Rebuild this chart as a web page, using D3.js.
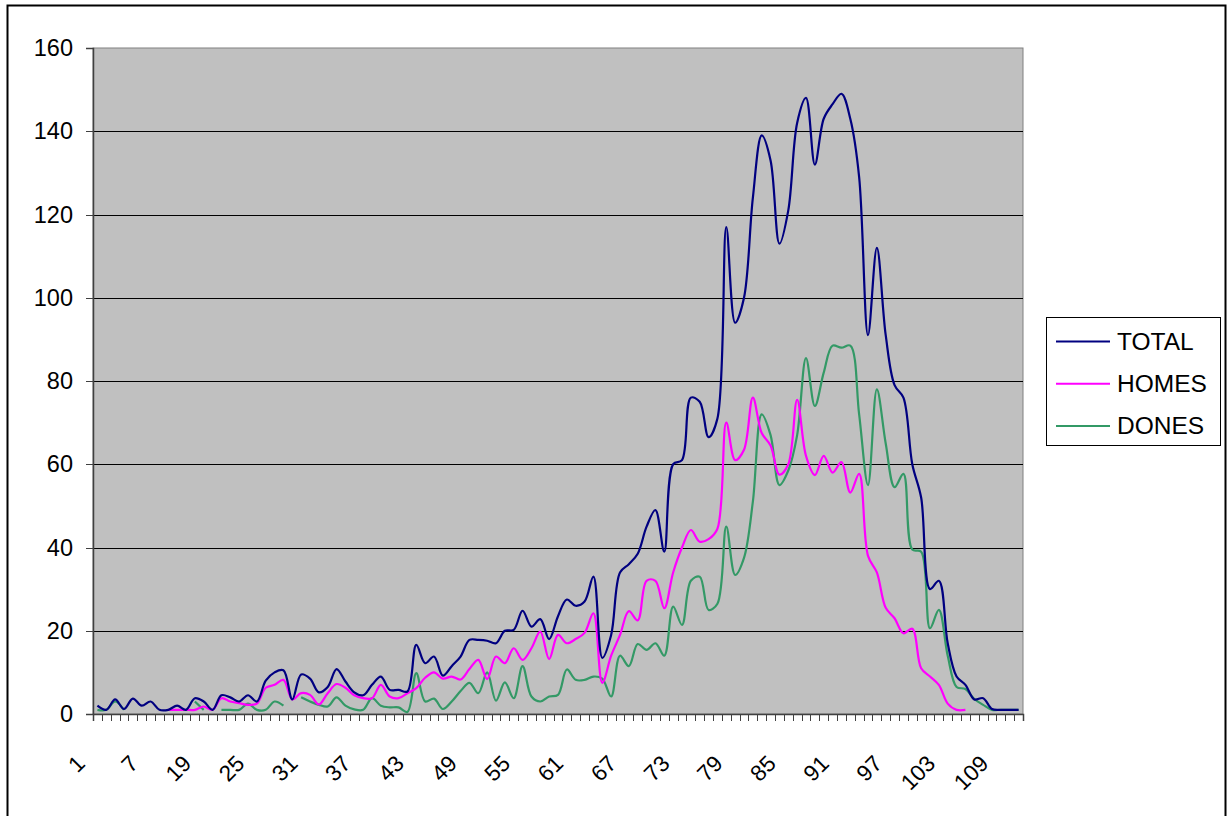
<!DOCTYPE html>
<html>
<head>
<meta charset="UTF-8">
<title>TOTAL / HOMES / DONES</title>
<script src="https://d3js.org/d3.v7.min.js"></script>
<style>
  body { margin: 0; background: #fff; }
  svg text { font-family: Arial, "Liberation Sans", sans-serif; fill: #000; }
</style>
</head>
<body>
<div id="chart"></div>
<script>
// category labels along the x axis (13..18 are missing in the data)
var categories = [1,2,3,4,5,6,7,8,9,10,11,12,
  19,20,21,22,23,24,25,26,27,28,29,30,31,32,33,34,35,36,37,38,39,40,
  41,42,43,44,45,46,47,48,49,50,51,52,53,54,55,56,57,58,59,60,
  61,62,63,64,65,66,67,68,69,70,71,72,73,74,75,76,77,78,79,80,
  81,82,83,84,85,86,87,88,89,90,91,92,93,94,95,96,97,98,99,100,
  101,102,103,104,105,106,107,108,109,110,111];

var tickLabels = ["1","7","19","25","31","37","43","49","55","61","67","73","79","85","91","97","103","109"];
var yTicks = [0,20,40,60,80,100,120,140,160];

var seriesNames = ["TOTAL","HOMES","DONES"];
var seriesColors = ["#000080","#FF00FF","#339966"];

var total = [2,1,3.5,1.2,3.7,2,3,1,1,2,1,3.8,
  3,1,4.5,4,3,4.5,3,8,10,10.5,3.5,9.5,8.5,5.2,6.5,10.8,7.8,5.2,
  4.5,7,9,5.8,5.8,5.4,16.6,12.2,13.8,9.2,11.5,13.8,17.8,17.8,17.6,17,
  20,20.2,24.8,21,22.8,18,23.5,27.5,26,27,33,13.5,19,34,
  36,38.5,45,49,39,60,61,76,75,66.5,71,117,94,100,124,139,
  133,113,121,142,148,132,143,146.5,149,143,129,91,112,91,79,76,
  60,52,30,32,17,9,7,3.5,3.8,1.2,1,1,1];

var homes = [null,null,null,null,null,null,null,null,1,1,1,1,
  1.8,1,3.8,3,2.6,2.2,2.5,6.3,7,8.2,3.5,5,4.6,2.3,5,7.2,6.3,4.5,
  3.8,3.8,7,4.2,3.8,5,6.2,8.7,10,8.5,9,8.3,10.8,13,8.4,13.8,
  12.2,15.8,13,15.8,19.8,13.2,19,17,18,19.5,24.2,7.5,14,19,
  24.7,22.5,32,32,25.4,34,40,44.2,41.4,42,44.5,70,61,63.5,76,67.5,
  64.5,57.5,60,75.5,62,57.4,62,58,60.5,53.2,57.7,38,34,25.5,23,19.4,
  20.5,11,9,7,2.5,1,1,null,null,null,null,null,null];

var dones = [1,1,3,1,null,null,null,null,null,null,null,3,
  1,null,1,1,1,2.5,1,1,3,2,null,4,3,2.2,1.8,4,2,1.1,
  1,3.8,2,1.6,1.6,0.5,9.8,3,3.7,1.2,3,5.5,7.5,5,10,3.2,
  7.6,3.8,11.5,4.2,3,4.2,4.6,10.7,8.2,8.2,9,8.5,4.2,14,
  11.5,16.8,15.4,17,14,25.8,21.4,32,33,25,26.5,45,33.4,37.5,51,72,
  67,55,58.5,67,85.5,74,82,88.5,88,88.5,72,55,78,65,54.5,57.7,
  39.5,39,20.6,25,14,6.5,6,3.6,2.2,1,1,1,1];

var W = 1231, H = 816;
var plotLeft = 93, plotRight = 1023, plotTop = 48, plotBottom = 714;

var svg = d3.select("#chart").append("svg")
    .attr("width", W)
    .attr("height", H);

// outer chart border
svg.append("rect")
    .attr("x", 7.5).attr("y", 5.5)
    .attr("width", 1218).attr("height", 840)
    .attr("fill", "#fff")
    .attr("stroke", "#000")
    .attr("stroke-width", 2);

var x = d3.scaleBand().domain(categories).range([plotLeft, plotRight]);
var y = d3.scaleLinear().domain([0, 160]).range([plotBottom, plotTop]);
var idx = d3.scaleLinear().domain([0, categories.length]).range([plotLeft, plotRight]);

// plot area
svg.append("rect")
    .attr("x", plotLeft).attr("y", plotTop)
    .attr("width", plotRight - plotLeft).attr("height", plotBottom - plotTop)
    .attr("fill", "#C0C0C0")
    .attr("stroke", "#808080")
    .attr("stroke-width", 1);

// gridlines
svg.append("g")
    .attr("transform", "translate(" + plotLeft + ",0)")
    .call(d3.axisLeft(y).tickValues(yTicks.slice(1, -1)).tickSize(-(plotRight - plotLeft)).tickFormat(""))
    .call(function(g){
        g.select(".domain").remove();
        g.selectAll("line").attr("stroke", "#000").attr("stroke-width", 1).attr("shape-rendering", "crispEdges");
    });

// y axis
svg.append("g")
    .attr("transform", "translate(" + plotLeft + ",0)")
    .call(d3.axisLeft(y).tickValues(yTicks).tickSize(7).tickPadding(13))
    .call(function(g){
        g.select(".domain").attr("stroke", "#404040").attr("stroke-width", 1.5);
        g.selectAll("line").attr("stroke", "#404040").attr("shape-rendering", "crispEdges");
        g.selectAll("text").attr("font-size", "23.5px").attr("font-family", "Arial, 'Liberation Sans', sans-serif").attr("fill", "#000");
    });

// x axis ticks between categories
svg.append("g")
    .attr("transform", "translate(0," + plotBottom + ")")
    .call(d3.axisBottom(idx).tickValues(d3.range(0, categories.length + 1)).tickSize(7).tickFormat(""))
    .call(function(g){
        g.select(".domain").attr("stroke", "#404040").attr("stroke-width", 1.5);
        g.selectAll("line").attr("stroke", "#404040").attr("shape-rendering", "crispEdges");
    });

// rotated category labels
svg.append("g").selectAll("text")
    .data(tickLabels)
    .enter().append("text")
    .attr("transform", function(d){
        var cx = x(+d) + x.bandwidth() / 2;
        return "translate(" + (cx - 11) + ",765) rotate(-45)";
    })
    .attr("text-anchor", "end")
    .attr("font-size", "22.5px")
    .text(function(d){ return d; });

// lines
var cx = function(i){ return x(categories[i]) + x.bandwidth() / 2; };
var line = d3.line()
    .defined(function(d){ return d != null; })
    .x(function(d, i){ return cx(i); })
    .y(function(d){ return y(d); })
    .curve(d3.curveCatmullRom.alpha(0.5));

var allSeries = [dones, homes, total];
var allColors = [seriesColors[2], seriesColors[1], seriesColors[0]];
svg.append("g").selectAll("path")
    .data(allSeries)
    .enter().append("path")
    .attr("d", function(d){ return line(d); })
    .attr("fill", "none")
    .attr("stroke", function(d, i){ return allColors[i]; })
    .attr("stroke-width", 2.2)
    .attr("stroke-linejoin", "round");

// legend
var legend = svg.append("g");
legend.append("rect")
    .attr("x", 1046.5).attr("y", 317.5)
    .attr("width", 174).attr("height", 128)
    .attr("fill", "#fff")
    .attr("stroke", "#000")
    .attr("stroke-width", 1);

var rows = legend.selectAll("g.row")
    .data(seriesNames)
    .enter().append("g")
    .attr("class", "row")
    .attr("transform", function(d, i){ return "translate(0," + (341.5 + i * 42.2) + ")"; });

rows.append("line")
    .attr("x1", 1056).attr("x2", 1110)
    .attr("y1", 0).attr("y2", 0)
    .attr("stroke", function(d, i){ return seriesColors[i]; })
    .attr("stroke-width", 2);

rows.append("text")
    .attr("x", 1117)
    .attr("y", 8.5)
    .attr("font-size", "24.5px")
    .text(function(d){ return d; });
</script>
</body>
</html>
